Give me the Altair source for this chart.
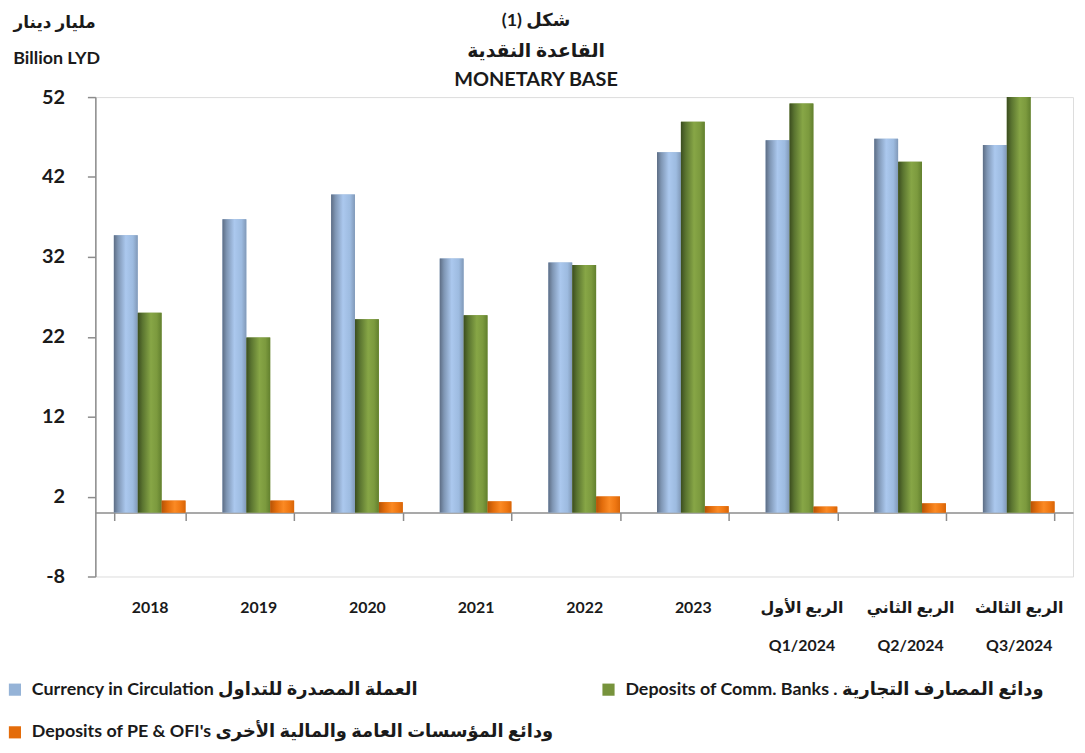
import altair as alt
import pandas as pd

categories = ["2018", "2019", "2020", "2021", "2022", "2023",
              "الربع الأول\nQ1/2024", "الربع الثاني\nQ2/2024", "الربع الثالث\nQ3/2024"]
series = ["Currency in Circulation العملة المصدرة للتداول",
          "Deposits of Comm. Banks . ودائع المصارف التجارية",
          "Deposits of PE & OFI's  ودائع المؤسسات العامة والمالية الأخرى"]
currency = [34.7, 36.7, 39.8, 31.8, 31.3, 45.1, 46.6, 46.8, 46.0]
comm_banks = [25.0, 21.9, 24.2, 24.7, 31.0, 48.9, 51.2, 43.9, 52.0]
pe_ofi = [1.5, 1.5, 1.3, 1.4, 2.0, 0.8, 0.75, 1.15, 1.4]
y_ticks = [-8, 2, 12, 22, 32, 42, 52]

flat_colors = ["#95B3D7", "#77933C", "#E46C0A"]
gradients = [
    [("#5d6d84", 0.0), ("#7f96b4", 0.18), ("#abc8ee", 0.5), ("#9dbbe0", 0.8), ("#8199b8", 1.0)],
    [("#3b4d1f", 0.0), ("#5a7430", 0.2), ("#87a646", 0.55), ("#7c9a3e", 0.8), ("#62802e", 1.0)],
    [("#b55307", 0.0), ("#e26c0b", 0.25), ("#fb8a24", 0.55), ("#ef7712", 0.8), ("#d86508", 1.0)],
]

rows = []
for vals, s in zip([currency, comm_banks, pe_ofi], series):
    for c, v in zip(categories, vals):
        rows.append({"category": c, "series": s, "value": v})
df = pd.DataFrame(rows)

# legend grid fills column-wise: order so that row 1 = currency, comm banks; row 2 = PE
legend_order = [series[0], series[2], series[1]]
legend_colors = [flat_colors[0], flat_colors[2], flat_colors[1]]

FONT = "Lato, DejaVu Sans"
W, H = 985, 483

x_enc = alt.X("category:N", sort=categories,
              scale=alt.Scale(paddingInner=0.34, paddingOuter=0.17),
              axis=alt.Axis(title=None, labelAngle=0, offset=-H * 8 / 60,
                            domainColor="#8c8c8c", domainWidth=1.5,
                            tickColor="#8c8c8c", tickWidth=1.5, tickSize=8, tickBand="extent",
                            labelFont=FONT, labelFontSize=16, labelFontWeight="bold",
                            labelColor="#1a1a1a", labelPadding=80, labelLineHeight=38,
                            labelBaseline="top",
                            labelExpr="split(datum.label, '\\n')"))
xo_enc = alt.XOffset("series:N", sort=series, scale=alt.Scale(paddingInner=0, paddingOuter=0))
y_enc = alt.Y("value:Q", scale=alt.Scale(domain=[-8, 52], nice=False, zero=False),
              axis=alt.Axis(title=None, values=y_ticks, grid=False,
                            domainColor="#8c8c8c", domainWidth=1.5,
                            tickColor="#8c8c8c", tickWidth=1.5, tickSize=8,
                            labelFont=FONT, labelFontSize=20, labelFontWeight="bold",
                            labelColor="#1a1a1a", labelPadding=23,
                            labelExpr="'' + datum.value"))

base_bars = alt.Chart(df).mark_bar(size=24).encode(
    x=x_enc, xOffset=xo_enc, y=y_enc, y2=alt.datum(0),
    color=alt.Color("series:N",
                    scale=alt.Scale(domain=legend_order, range=legend_colors),
                    legend=alt.Legend(title=None, orient="none", legendX=-90, legendY=588,
                                      columns=2, columnPadding=41, rowPadding=25,
                                      symbolType="square", symbolSize=150,
                                      symbolStrokeWidth=0, symbolOffset=0,
                                      labelFont=FONT, labelFontSize=18,
                                      labelFontWeight="bold", labelColor="#1a1a1a",
                                      labelLimit=800, labelOffset=8)),
)

layers = [base_bars]
for s, stops in zip(series, gradients):
    grad = alt.Gradient(gradient="linear", x1=0, x2=1, y1=0, y2=0,
                        stops=[alt.GradientStop(color=c, offset=o) for c, o in stops])
    layers.append(
        alt.Chart(df).transform_filter(alt.datum.series == s).mark_bar(size=24, color=grad).encode(
            x=alt.X("category:N", sort=categories), xOffset=alt.XOffset("series:N", sort=series),
            y=alt.Y("value:Q"), y2=alt.datum(0)
        )
    )

one = alt.Data(values=[{"a": 1}])
def txt(t, x, y, size):
    return alt.Chart(one).mark_text(font=FONT, fontSize=size, fontWeight="bold",
                                    color="#1a1a1a", align="center", baseline="middle").encode(
        x=alt.value(x), y=alt.value(y), text=alt.value(t))

layers += [
    txt("(1) شكل", 444, -77, 18),
    txt("القاعدة النقدية", 444, -46, 19),
    txt("MONETARY BASE", 444, -17, 20),
    txt("مليار دينار", -41, -75, 17),
    txt("Billion LYD", -39, -38, 18),
]

chart = alt.layer(*layers).properties(
    width=W, height=H,
    autosize=alt.AutoSizeParams(type="none"),
    padding={"left": 88, "top": 87, "right": 4, "bottom": 167},
).configure_view(stroke=None).configure(background="white")

chart.save("out.html", embed_options={"renderer": "svg", "actions": False})
